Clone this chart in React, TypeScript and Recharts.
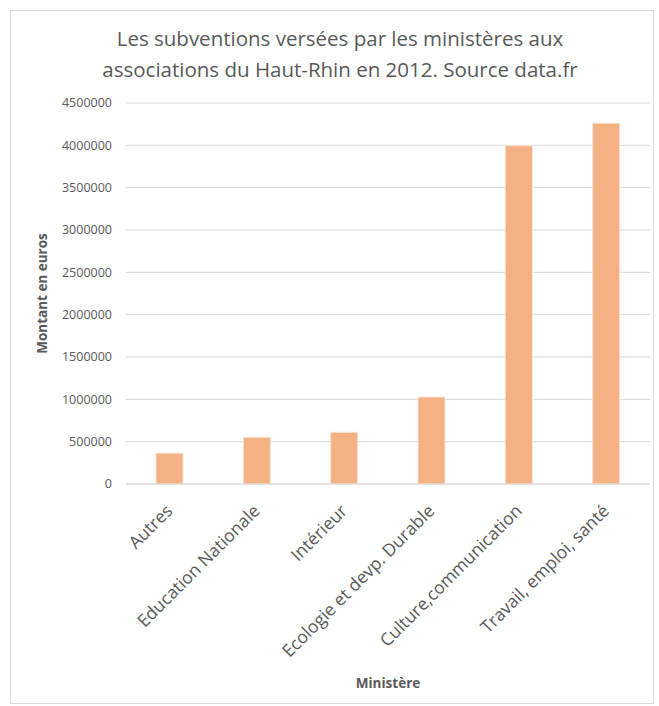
import React from "react";
import { BarChart, Bar, XAxis, YAxis, CartesianGrid, Label } from "recharts";

const categories = [
  "Autres",
  "Education Nationale",
  "Intérieur",
  "Ecologie et devp. Durable",
  "Culture,communication",
  "Travail, emploi, santé",
];
const montants = [365000, 552000, 611000, 1027000, 3995000, 4262000];
const yTicks = [0, 500000, 1000000, 1500000, 2000000, 2500000, 3000000, 3500000, 4000000, 4500000];
const titleLines = [
  "Les subventions versées par les ministères aux",
  "associations du Haut-Rhin en 2012. Source data.fr",
];

const data = categories.map((c, i) => ({ name: c, value: montants[i] }));

const FONT = "'Open Sans', sans-serif";
const TXT = "#595959";

const XTick = (props: any) => {
  const { x, y, payload } = props;
  const ax = x + 4;
  const ay = y + 20;
  return (
    <text
      x={ax}
      y={ay}
      transform={`rotate(-45 ${ax} ${ay})`}
      textAnchor="end"
      fill={TXT}
      fontFamily={FONT}
      fontSize={17.5}
    >
      {payload.value}
    </text>
  );
};

export default function App() {
  return (
    <div style={{ position: "absolute", left: 0, top: 0, width: 659, height: 706, background: "#fff" }}>
      <div
        style={{
          position: "absolute",
          left: 10,
          top: 10,
          width: 644,
          height: 694,
          border: "1px solid #d9d9d9",
          boxSizing: "border-box",
        }}
      />
      <div
        style={{
          position: "absolute",
          left: 40,
          top: 23,
          width: 600,
          textAlign: "center",
          fontFamily: FONT,
          fontSize: 20.5,
          lineHeight: "31px",
          color: TXT,
        }}
      >
        {titleLines.map((l) => (
          <div key={l}>{l}</div>
        ))}
      </div>
      <div style={{ position: "absolute", left: 0, top: 0 }}>
        <BarChart
          width={659}
          height={706}
          data={data}
          margin={{ top: 103, right: 9, bottom: 0, left: 0 }}
          barSize={27}
        >
          <CartesianGrid vertical={false} stroke="#d9d9d9" />
          <XAxis
            dataKey="name"
            height={222}
            interval={0}
            tick={<XTick />}
            tickLine={false}
            axisLine={{ stroke: "#d9d9d9" }}
          >
            <Label
              content={(p: any) => {
                const vb = p.viewBox;
                return (
                  <text
                    x={vb.x + vb.width / 2}
                    y={vb.y + 204}
                    textAnchor="middle"
                    fill={TXT}
                    fontFamily={FONT}
                    fontSize={13.5}
                    fontWeight="bold"
                  >
                    Ministère
                  </text>
                );
              }}
            />
          </XAxis>
          <YAxis
            width={126}
            domain={[0, 4500000]}
            ticks={yTicks}
            interval={0}
            tickLine={false}
            axisLine={false}
            tick={{ fill: TXT, fontFamily: FONT, fontSize: 12.5 }}
            tickMargin={8}
          >
            <Label
              content={(p: any) => {
                const vb = p.viewBox;
                const cx = vb.x + 47;
                const cy = vb.y + vb.height / 2;
                return (
                  <text
                    x={cx}
                    y={cy}
                    transform={`rotate(-90 ${cx} ${cy})`}
                    textAnchor="middle"
                    fill={TXT}
                    fontFamily={FONT}
                    fontSize={13.5}
                    fontWeight="bold"
                  >
                    Montant en euros
                  </text>
                );
              }}
            />
          </YAxis>
          <Bar dataKey="value" fill="#f4b183" stroke="#fbe5d6" strokeWidth={1} isAnimationActive={false} />
        </BarChart>
      </div>
    </div>
  );
}
